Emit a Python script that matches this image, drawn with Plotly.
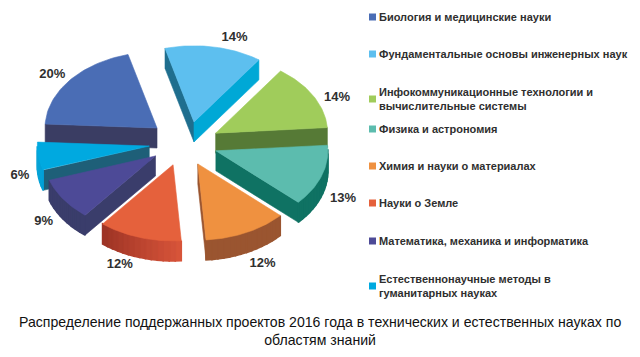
import math
import plotly.graph_objects as go

# --- data ---
CATEGORIES = [
    "Биология и медицинские науки",
    "Фундаментальные основы инженерных наук",
    "Инфокоммуникационные технологии и<br>вычислительные системы",
    "Физика и астрономия",
    "Химия и науки о материалах",
    "Науки о Земле",
    "Математика, механика и информатика",
    "Естественнонаучные методы в<br>гуманитарных науках",
]
VALUES = [20, 14, 14, 13, 12, 12, 9, 6]
CAPTION = ("Распределение поддержанных проектов 2016 года в технических и естественных науках по<br>"
           "областям знаний")

# --- styles ---
TOP = ["#4a6db5", "#5dbfef", "#a0cc5b", "#5cbcae", "#ef9140", "#e5613c", "#4d4a97", "#00a9e0"]
CUT_START = ["#3a3d63", "#1f6e8e", "#567a36", "#0f7263", "#9a5530", "#d9553a", "#3a3d6b", "#1e5f78"]
CUT_END = ["#3a3d63", "#00a8d6", "#567a36", "#0f7263", "#9a5530", "#9c3325", "#3a3d6b", "#1e5f78"]
RIM_A = ["#3a3d63", "#00a8d6", "#567a36", "#0f7263", "#9a5530", "#d9553a", "#3a3d6b", "#00a0d8"]
RIM_B = ["#3a3d63", "#00a8d6", "#567a36", "#0f7263", "#9a5530", "#9c3325", "#3a3d6b", "#0aa5d5"]
PULL = [36.4, 32, 33, 32, 33, 34.5, 36, 37]
PULL_ANGLE = [-52.8, 14.5, 64, 111, 159, 202, 238, 263]
LABEL_DELTA = [-2, 8, 6, 10, 2, 2.5, -6, -11]
LABEL_FACTOR = [1.17, 1.16, 1.18, 1.30, 1.43, 1.40, 1.32, 1.22]
DRAW_ORDER = [0, 1, 2, 7, 3, 6, 4, 5]
CX, CY, R, K, DEPTH, START = 186, 143, 112, 0.68, 20, -87
LEGEND_X, LEGEND_Y = 372.5, [17, 54, 99, 129, 166, 203, 241, 286]
TEXT = "#2f2f2f"


def pt(a, ang, r=R):
    t = math.radians(ang)
    return a[0] + r * math.sin(t), a[1] - r * K * math.cos(t)


def hexmix(c1, c2, f):
    a = [int(c1[i:i + 2], 16) for i in (1, 3, 5)]
    b = [int(c2[i:i + 2], 16) for i in (1, 3, 5)]
    return "rgb(%d,%d,%d)" % tuple(round(x + (y - x) * f) for x, y in zip(a, b))


def poly(fig, pts, color, lw=0.6):
    fig.add_trace(go.Scatter(
        x=[p[0] for p in pts] + [pts[0][0]], y=[p[1] for p in pts] + [pts[0][1]],
        mode="lines", fill="toself", fillcolor=color, line=dict(color=color, width=lw),
        hoverinfo="skip", showlegend=False))


def wall(fig, p, q, color, lw=0.6):
    poly(fig, [p, q, (q[0], q[1] + DEPTH), (p[0], p[1] + DEPTH)], color, lw)


total = sum(VALUES)
bounds, acc = [], START
for v in VALUES:
    bounds.append((acc, acc + 360 * v / total))
    acc += 360 * v / total

fig = go.Figure()
lx, ly, lt = [], [], []
for i in DRAW_ORDER:
    a0, a1 = bounds[i]
    mid = (a0 + a1) / 2
    apex = pt((CX, CY), PULL_ANGLE[i], PULL[i])
    p0, p1 = pt(apex, a0), pt(apex, a1)
    if p0[0] < apex[0]:
        wall(fig, apex, p0, CUT_START[i])
    if apex[0] < p1[0]:
        wall(fig, p1, apex, CUT_END[i])
    n = max(2, int((a1 - a0) / 3))
    for s in range(n):
        b0 = a0 + (a1 - a0) * s / n
        b1 = a0 + (a1 - a0) * (s + 1) / n
        if math.cos(math.radians((b0 + b1) / 2)) < 0:
            wall(fig, pt(apex, b0), pt(apex, b1), hexmix(RIM_A[i], RIM_B[i], (s + 0.5) / n), 1.6)
    arc = [pt(apex, a0 + (a1 - a0) * s / 40) for s in range(41)]
    poly(fig, [apex] + arc, TOP[i])
    l = pt(apex, mid + LABEL_DELTA[i], R * LABEL_FACTOR[i])
    lx.append(l[0]); ly.append(l[1]); lt.append(f"{VALUES[i]}%")

fig.add_trace(go.Scatter(x=lx, y=ly, text=lt, mode="text", hoverinfo="skip", showlegend=False,
                         textfont=dict(family="Liberation Sans", size=13, color=TEXT),
                         texttemplate="<b>%{text}</b>"))
fig.add_trace(go.Scatter(x=[LEGEND_X] * 8, y=LEGEND_Y, mode="markers", hoverinfo="skip", showlegend=False,
                         marker=dict(symbol="square", size=7, color=TOP)))
for cat, y in zip(CATEGORIES, LEGEND_Y):
    fig.add_annotation(x=377, y=y, text=f"<b>{cat}</b>", xref="x", yref="y", xanchor="left", align="left",
                       showarrow=False, font=dict(family="Liberation Sans", size=11, color=TEXT))
fig.add_annotation(x=320, y=331, text=CAPTION, xref="x", yref="y", showarrow=False, align="center",
                   font=dict(family="Liberation Sans", size=14.1, color="#111111"))

fig.update_layout(
    width=640, height=357, margin=dict(l=0, r=0, t=0, b=0), paper_bgcolor="white", plot_bgcolor="white",
    xaxis=dict(range=[0, 640], visible=False, fixedrange=True),
    yaxis=dict(range=[357, 0], visible=False, fixedrange=True),
)
fig.write_html("out.html", config={"displayModeBar": False},
               post_script="document.body.style.margin='0';document.body.style.overflow='hidden';")
